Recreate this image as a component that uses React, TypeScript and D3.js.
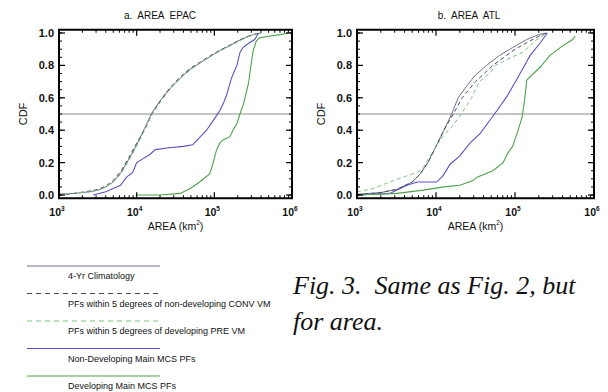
import React from "react";
import * as d3 from "d3";

// ---------- data (area in km², CDF) ----------
const aClimX = [1000,1600,2500,3200,4000,5000,6300,7900,10000,12600,15800,20000,25100,31600,39800,50100,63100,79400,100000,126000,158000,200000,251000,316000,398000];
const aClimY = [0.005,0.01,0.02,0.03,0.05,0.08,0.14,0.22,0.31,0.41,0.51,0.58,0.64,0.69,0.74,0.78,0.81,0.84,0.87,0.90,0.92,0.95,0.97,0.99,1.0];
const aConvX = [1000,1600,2500,3200,4000,5000,6300,7900,10000,12600,15800,20000,25100,31600,39800,50100,63100,79400,100000,126000,158000,200000,251000,316000,380000];
const aConvY = [0.0,0.01,0.025,0.035,0.055,0.09,0.15,0.23,0.32,0.40,0.50,0.58,0.645,0.70,0.745,0.785,0.815,0.845,0.875,0.90,0.925,0.95,0.975,0.99,1.0];
const aPreX = [1000,1600,2500,3200,4000,5000,6300,7900,10000,12600,15800,20000,25100,31600,39800,50100,63100,79400,100000,126000,158000,200000,251000,316000,398000];
const aPreY = [0.005,0.012,0.02,0.03,0.05,0.085,0.13,0.21,0.30,0.40,0.50,0.57,0.635,0.69,0.735,0.775,0.81,0.84,0.87,0.895,0.92,0.945,0.97,0.99,1.0];
const aNonDevX = [2750,4000,5000,6200,7400,8900,10000,11700,14800,17400,24500,39800,52500,63100,79400,100000,117500,131800,144500,166000,195000,214000,234000,282000,331000,372000];
const aNonDevY = [0.0,0.02,0.04,0.06,0.11,0.14,0.2,0.22,0.25,0.28,0.29,0.30,0.31,0.35,0.40,0.47,0.52,0.57,0.62,0.72,0.80,0.88,0.91,0.94,0.96,1.0];
const aDevX = [10000,20000,36300,49000,64600,87100,95500,107000,117500,128800,158500,173800,195000,213800,240000,275400,302000,316200,346700,380200,501000,708000,891000];
const aDevY = [0.0,0.0,0.01,0.04,0.08,0.13,0.19,0.28,0.32,0.34,0.36,0.40,0.44,0.50,0.57,0.69,0.83,0.89,0.95,0.97,0.98,0.99,1.0];

const bClimX = [1000,2000,3200,5000,6300,7900,10000,12600,15800,19100,25100,31600,43700,63100,93300,141000,200000,251000];
const bClimY = [0.005,0.015,0.035,0.08,0.13,0.20,0.30,0.40,0.50,0.60,0.68,0.74,0.80,0.86,0.91,0.96,0.99,1.0];
const bConvX = [1000,2000,3200,5000,6300,7900,10000,12600,16600,21400,31600,52500,100000,141000,200000,251000];
const bConvY = [0.0,0.015,0.035,0.08,0.13,0.20,0.30,0.40,0.50,0.60,0.70,0.80,0.90,0.94,0.98,1.0];
const bPreX = [1000,1600,2600,3800,5800,6900,7900,10000,12600,15800,20900,28200,35500,50100,56200,63100,89100,126000,178000,251000];
const bPreY = [0.02,0.04,0.08,0.11,0.14,0.17,0.22,0.30,0.37,0.42,0.50,0.60,0.70,0.76,0.80,0.81,0.85,0.88,0.95,1.0];
const bNonDevX = [1000,2600,4300,5800,10200,12300,15100,19900,26900,36300,47900,58900,79400,110000,155000,209000,257000];
const bNonDevY = [0.0,0.01,0.06,0.08,0.08,0.12,0.19,0.24,0.32,0.38,0.46,0.52,0.61,0.73,0.86,0.94,1.0];
const bDevX = [1000,3200,6900,12600,20000,29500,33100,52500,70800,81300,93300,109600,123000,131800,141000,209000,275000,372000,537000,575000];
const bDevY = [0.0,0.01,0.03,0.05,0.06,0.09,0.11,0.15,0.20,0.26,0.30,0.40,0.48,0.58,0.71,0.79,0.86,0.91,0.96,0.98];

const yTicks = [0, 0.2, 0.4, 0.6, 0.8, 1.0];
const xTickExps = [3, 4, 5, 6];
const panelTitles = ["a.  AREA  EPAC", "b.  AREA  ATL"];
const legendLabels = [
  "4-Yr Climatology",
  "PFs within 5 degrees of non-developing CONV VM",
  "PFs within 5 degrees of developing PRE VM",
  "Non-Developing Main MCS PFs",
  "Developing Main MCS PFs",
];

// ---------- styles ----------
const styles = [
  { color: "#6f7390", dash: "", width: 1 },
  { color: "#4a4a5a", dash: "4,3", width: 1 },
  { color: "#7fbf7f", dash: "4,3", width: 1 },
  { color: "#5a52c4", dash: "", width: 1.1 },
  { color: "#4da24d", dash: "", width: 1.1 },
];

const FONT = "Liberation Sans, Arial, sans-serif";
const SERIF = "'Liberation Serif', 'Times New Roman', serif";

function Panel({ x0, x1, title, titleX, series }: { x0: number; x1: number; title: string; titleX: number; series: { x: number[]; y: number[] }[] }) {
  const x = d3.scaleLog().domain([1e3, 1e6]).range([x0, x1]);
  const y = d3.scaleLinear().domain([0, 1]).range([195, 33]);
  const yTop = y(1.02);
  const yBot = y(-0.02);
  const line = d3
    .line<[number, number]>()
    .x((d) => x(d[0]))
    .y((d) => y(d[1]));
  const minorX: number[] = [];
  for (let e = 3; e < 6; e++) for (let m = 2; m <= 9; m++) minorX.push(m * Math.pow(10, e));
  const minorY: number[] = d3.range(0, 21).map((i) => i * 0.05);
  const cx = (x0 + x1) / 2;
  return (
    <g>
      <text x={titleX} y={19} fontFamily={FONT} fontSize={10} textAnchor="middle" fill="#111" style={{ whiteSpace: "pre" }}>
        {title}
      </text>
      <defs>
        <clipPath id={"clip" + x0}>
          <rect x={x0} y={yTop} width={x1 - x0} height={yBot - yTop} />
        </clipPath>
      </defs>
      <line x1={x0} x2={x1} y1={y(0.5)} y2={y(0.5)} stroke="#8a8a8a" strokeWidth={1} />
      <g clipPath={`url(#clip${x0})`}>
        {series.map((s, i) => (
          <path
            key={i}
            d={line(s.x.map((v, j) => [v, s.y[j]] as [number, number])) || ""}
            fill="none"
            stroke={styles[i].color}
            strokeWidth={styles[i].width}
            strokeDasharray={styles[i].dash}
          />
        ))}
      </g>
      {minorX.map((v, i) => (
        <g key={"mx" + i}>
          <line x1={x(v)} x2={x(v)} y1={yBot} y2={yBot - 3} stroke="#000" strokeWidth={1} />
          <line x1={x(v)} x2={x(v)} y1={yTop} y2={yTop + 3} stroke="#000" strokeWidth={1} />
        </g>
      ))}
      {xTickExps.map((e) => (
        <g key={"Mx" + e}>
          <line x1={x(Math.pow(10, e))} x2={x(Math.pow(10, e))} y1={yBot} y2={yBot - 6} stroke="#000" strokeWidth={1.2} />
          <line x1={x(Math.pow(10, e))} x2={x(Math.pow(10, e))} y1={yTop} y2={yTop + 6} stroke="#000" strokeWidth={1.2} />
          <text x={x(Math.pow(10, e)) - 2} y={216} fontFamily={FONT} fontSize={10.5} fontWeight="bold" textAnchor="middle" fill="#111">
            10
            <tspan fontSize={6.5} dy={-5}>
              {e}
            </tspan>
          </text>
        </g>
      ))}
      {minorY.map((v, i) => (
        <g key={"my" + i}>
          <line x1={x0} x2={x0 + 3} y1={y(v)} y2={y(v)} stroke="#000" strokeWidth={1} />
          <line x1={x1} x2={x1 - 3} y1={y(v)} y2={y(v)} stroke="#000" strokeWidth={1} />
        </g>
      ))}
      {yTicks.map((v) => (
        <g key={"My" + v}>
          <line x1={x0} x2={x0 + 6} y1={y(v)} y2={y(v)} stroke="#000" strokeWidth={1.2} />
          <line x1={x1} x2={x1 - 6} y1={y(v)} y2={y(v)} stroke="#000" strokeWidth={1.2} />
          <text x={x0 - 5} y={y(v) + 4} fontFamily={FONT} fontSize={11} fontWeight="bold" textAnchor="end" fill="#111">
            {v.toFixed(1)}
          </text>
        </g>
      ))}
      <rect x={x0} y={yTop} width={x1 - x0} height={yBot - yTop} fill="none" stroke="#000" strokeWidth={2} />
      <text x={x0 - 36} y={y(0.5)} fontFamily={FONT} fontSize={11} textAnchor="middle" fill="#111" transform={`rotate(-90 ${x0 - 36} ${y(0.5)})`} dy={4}>
        CDF
      </text>
      <text x={cx} y={230} fontFamily={FONT} fontSize={10.5} textAnchor="middle" fill="#111">
        AREA (km
        <tspan fontSize={6.5} dy={-5}>
          2
        </tspan>
        <tspan dy={5}>)</tspan>
      </text>
    </g>
  );
}

export default function App() {
  const seriesA = [
    { x: aClimX, y: aClimY },
    { x: aConvX, y: aConvY },
    { x: aPreX, y: aPreY },
    { x: aNonDevX, y: aNonDevY },
    { x: aDevX, y: aDevY },
  ];
  const seriesB = [
    { x: bClimX, y: bClimY },
    { x: bConvX, y: bConvY },
    { x: bPreX, y: bPreY },
    { x: bNonDevX, y: bNonDevY },
    { x: bDevX, y: bDevY },
  ];
  const legY = d3.scaleLinear().domain([0, 4]).range([266, 376]);
  return (
    <svg width={608} height={392} style={{ position: "absolute", left: 0, top: 0, background: "#fff" }}>
      <rect x={0} y={0} width={608} height={392} fill="#fff" />
      <Panel x0={59} x1={292} title={panelTitles[0]} titleX={160} series={seriesA} />
      <Panel x0={357} x1={594} title={panelTitles[1]} titleX={469} series={seriesB} />
      {legendLabels.map((lab, i) => (
        <g key={lab}>
          <line
            x1={27}
            x2={160}
            y1={legY(i)}
            y2={legY(i)}
            stroke={styles[i].color}
            strokeWidth={1}
            strokeDasharray={styles[i].dash ? "5,4" : ""}
          />
          <text x={68} y={legY(i) + 13} fontFamily={FONT} fontSize={9} fill="#111">
            {lab}
          </text>
        </g>
      ))}
      <text x={293} y={294} fontFamily={SERIF} fontStyle="italic" fontSize={26} fill="#111" style={{ whiteSpace: "pre" }}>
        {"Fig. 3.  Same as Fig. 2, but"}
      </text>
      <text x={293} y={330} fontFamily={SERIF} fontStyle="italic" fontSize={26} fill="#111">
        for area.
      </text>
    </svg>
  );
}
